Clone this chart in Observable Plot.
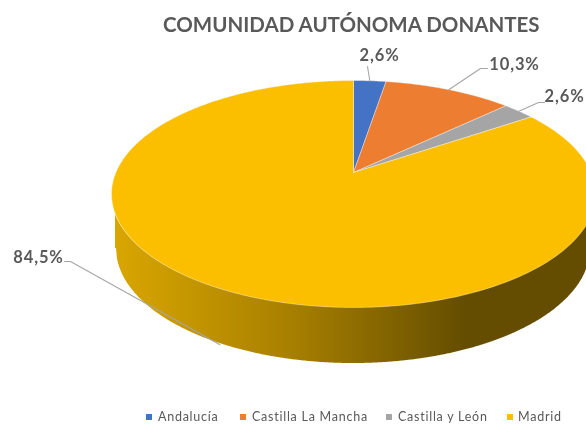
<!DOCTYPE html>
<html lang="es">
<head>
<meta charset="utf-8">
<script src="https://cdn.jsdelivr.net/npm/d3@7"></script>
<script src="https://cdn.jsdelivr.net/npm/@observablehq/plot@0.6"></script>
<style>
  html, body { margin: 0; padding: 0; background: #fff; width: 586px; height: 425px; overflow: hidden; }
  #page { width: 586px; height: 425px; filter: blur(0.5px); }
  #title { height: 40px; box-sizing: border-box; padding: 12px 0 0 163px; font: 700 20.5px/24px Lato, sans-serif; color: #595959; white-space: nowrap; }
  #chart svg { display: block; }
  #legend { position: relative; height: 40px; font: 400 12.5px/14px Lato, sans-serif; letter-spacing: 0.75px; color: #595959; }
  #legend span { position: absolute; top: 25px; white-space: nowrap; }
  #legend i { position: absolute; top: 29px; width: 6px; height: 6px; }
</style>
</head>
<body>
<div id="page">
<div id="title">COMUNIDAD AUTÓNOMA DONANTES</div>
<div id="chart"></div>
<div id="legend"></div>
</div>
<script>
const categories = ["Andalucía", "Castilla La Mancha", "Castilla y León", "Madrid"];
const shares = [2.6, 10.3, 2.6, 84.5];
const shareLabels = ["2,6%", "10,3%", "2,6%", "84,5%"];
const colors = ["#4472c4", "#ed7d31", "#a5a5a5", "#fcbf00"];

// layout of the tilted pie, in page pixels
const W = 586, H = 345, TOP = 40;
const cx = 353, cy = 193.5, a = 242, b = 113.5, tilt = 0.189;
const baseA = 237, baseB = 115, baseCy = 248;

// a fraction of the turn, clockwise from twelve o'clock, on the tilted rim
function rim(frac, r = 1) {
  const t = frac * 2 * Math.PI;
  const X = r * Math.sin(t), Y = -r * Math.cos(t);
  const d = 1 - tilt * Y;
  return { x: cx + a * X * Math.sqrt(1 - tilt * tilt) / d, y: cy + b * (Y - tilt) / d };
}

const total = d3.sum(shares);
let acc = 0;
const slices = categories.map((name, i) => {
  const start = acc / total, end = (acc + shares[i]) / total;
  acc += shares[i];
  return { name, start, end, mid: (start + end) / 2, label: shareLabels[i] };
});

const slicePts = slices.flatMap(s => {
  const n = Math.ceil((s.end - s.start) * 360);
  const pts = [{ name: s.name, ...rim(0, 0) }];
  for (let k = 0; k <= n; k++) pts.push({ name: s.name, ...rim(s.start + (s.end - s.start) * k / n) });
  pts.push({ name: s.name, ...rim(0, 0) });
  return pts;
});

const wall = d3.range(-238, 238.5, 1).map(dx => {
  const c = Math.max(-baseA, Math.min(baseA, dx));
  return {
    x: cx + dx,
    y1: cy + b * Math.sqrt(1 - (dx / a) ** 2),
    y2: baseCy + baseB * Math.sqrt(1 - (c / baseA) ** 2)
  };
});

// label and leader layout, in page pixels
const labelAt = [[379, 55], [514, 64], [564, 96], [38, 257]];
const elbows = [[[367, 66]], [[480, 68], [487, 68]], [[538, 102], [544, 102]], [[70, 261], [64, 261]]];
const wallDrop = [0, 0, 0, 56];

const labels = slices.map((s, i) => ({ text: s.label, x: labelAt[i][0], y: labelAt[i][1] }));
const leaders = slices.flatMap((s, i) => {
  const p = rim(s.mid);
  return [{ i, x: p.x, y: p.y + wallDrop[i] }, ...elbows[i].map(([x, y]) => ({ i, x, y }))];
});

const plot = Plot.plot({
  width: W, height: H,
  margin: 0,
  x: { domain: [0, W], range: [0, W], axis: null },
  y: { domain: [TOP, TOP + H], range: [0, H], axis: null },
  color: { domain: categories, range: colors },
  style: { background: "transparent", overflow: "hidden" },
  marks: [
    Plot.areaY(wall, { x: "x", y1: "y1", y2: "y2", fill: "url(#wallGrad)" }),
    Plot.line(slicePts, { x: "x", y: "y", z: "name", fill: "name", stroke: "#fff", strokeWidth: 0.5, strokeOpacity: 0.7, curve: "linear" }),
    Plot.line(leaders, { x: "x", y: "y", z: "i", stroke: "#a6a6a6", strokeWidth: 1.1, curve: "linear" }),
    Plot.text(labels, { x: "x", y: "y", text: "text", fill: "#595959", fontSize: 16.5, fontWeight: 700, fontFamily: "Lato, sans-serif", textAnchor: "middle" })
  ]
});
plot.querySelectorAll("text").forEach(t => t.style.letterSpacing = "0.9px");

const defs = document.createElementNS("http://www.w3.org/2000/svg", "defs");
defs.innerHTML = `<linearGradient id="wallGrad" gradientUnits="userSpaceOnUse" x1="115" x2="465" y1="0" y2="0">
  <stop offset="0" stop-color="#d9a600"/>
  <stop offset="0.5" stop-color="#a88000"/>
  <stop offset="1" stop-color="#644d00"/>
</linearGradient>`;
plot.insertBefore(defs, plot.firstChild);
document.getElementById("chart").append(plot);

const legendX = [[146, 158], [240, 252], [386, 398], [507, 518]];
const legend = document.getElementById("legend");
categories.forEach((name, i) => {
  const sw = document.createElement("i");
  sw.style.left = legendX[i][0] + "px";
  sw.style.background = colors[i];
  const tx = document.createElement("span");
  tx.style.left = legendX[i][1] + "px";
  tx.textContent = name;
  legend.append(sw, tx);
});
</script>
</body>
</html>
